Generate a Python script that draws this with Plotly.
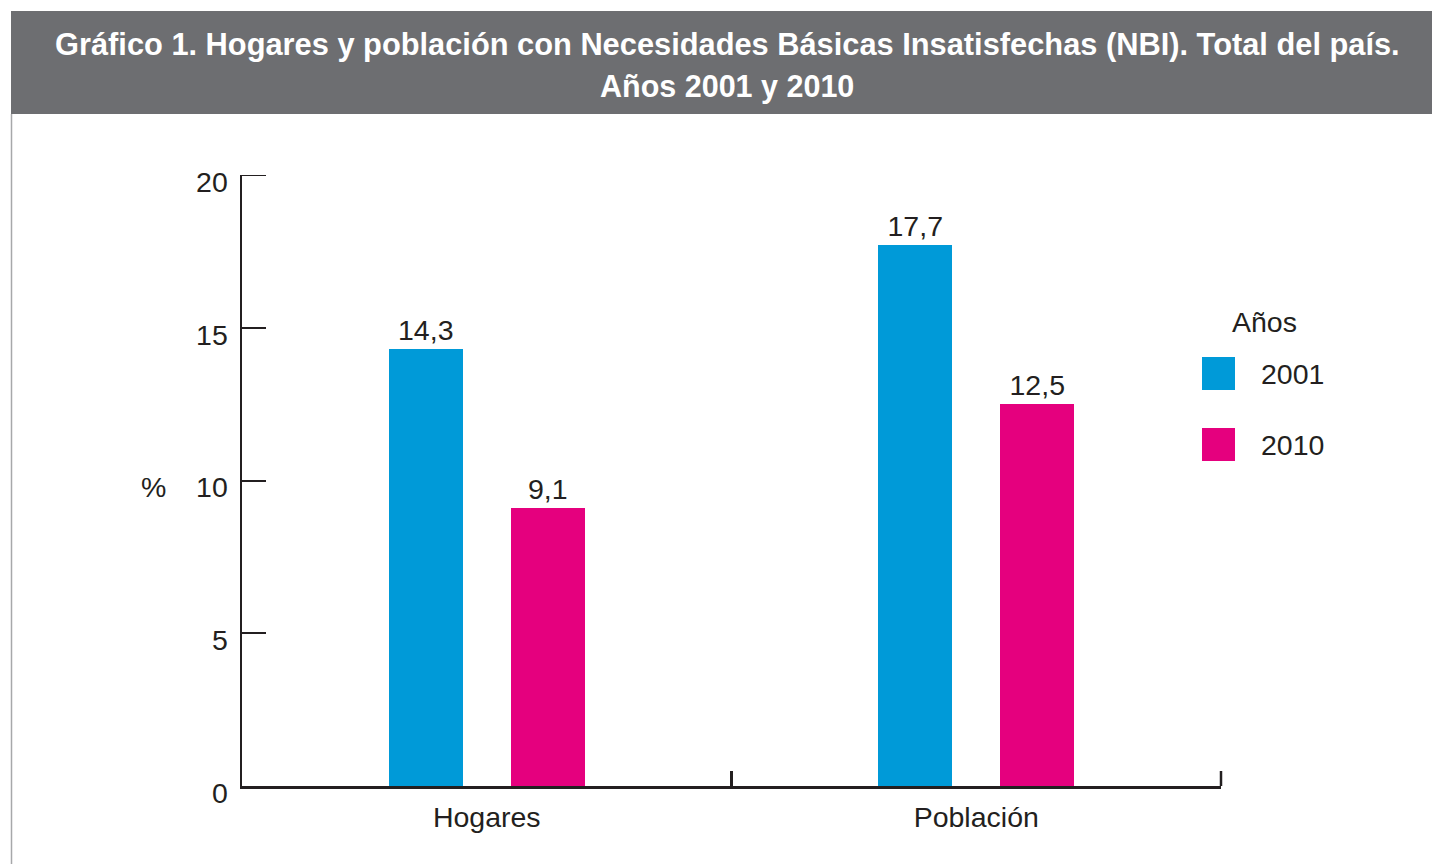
import plotly.graph_objects as go

categories = ["Hogares", "Población"]
series_names = ["2001", "2010"]
values_2001 = [14.3, 17.7]
values_2010 = [9.1, 12.5]
colors = ["#009ad8", "#e5007e"]
y_ticks = [0, 5, 10, 15, 20]

title_line1 = "Gráfico 1. Hogares y población con Necesidades Básicas Insatisfechas (NBI). Total del país."
title_line2 = "Años 2001 y 2010"
legend_title = "Años"
y_title = "%"

OFF = 0  # body margin removed via post_script
W, H = 1432 - OFF, 864 - OFF
L, R, T, B = 242, 1221, 175, 786  # plot area in page pixels
pw, ph = R - L, B - T


def px(x):
    return (x - L) / pw


def py(y):
    return (B - y) / ph


FONT = "Liberation Sans, Arial, Helvetica, sans-serif"
TXT = "#231f20"

fig = go.Figure()
series_values = [values_2001, values_2010]
offsets = [-0.2002, 0.049]
for name, vals, col, off in zip(series_names, series_values, colors, offsets):
    fig.add_trace(go.Bar(
        x=categories, y=vals, name=name,
        marker=dict(color=col, line=dict(width=0)),
        width=0.1512, offset=off,
        texttemplate="%{y:.1f}", textposition="outside",
        textfont=dict(size=28.5, color=TXT, family=FONT),
        cliponaxis=False, showlegend=False,
    ))

shapes = [
    # title banner
    dict(type="rect", xref="paper", yref="paper", x0=px(11), x1=px(1440), y0=py(114), y1=py(11),
         fillcolor="#6d6e71", line=dict(width=0), layer="below"),
    # left border of panel
    dict(type="line", xref="paper", yref="paper", x0=px(11.5), x1=px(11.5), y0=py(114), y1=py(870),
         line=dict(color="#a7a8aa", width=1.5)),
    # end ticks that plotly hides at the plot edges
    dict(type="line", xref="paper", yref="y", x0=0, x1=24 / pw, y0=y_ticks[-1], y1=y_ticks[-1],
         line=dict(color=TXT, width=2)),
    dict(type="line", xref="paper", yref="paper", x0=1, x1=1, y0=0, y1=15 / ph,
         line=dict(color=TXT, width=2.5)),
]
annotations = [
    dict(text="<b>" + title_line1 + "</b>", xref="paper", yref="paper", x=px(727), y=py(44),
         xanchor="center", yanchor="middle", showarrow=False,
         font=dict(size=30.8, color="white", family=FONT)),
    dict(text="<b>" + title_line2 + "</b>", xref="paper", yref="paper", x=px(727), y=py(86),
         xanchor="center", yanchor="middle", showarrow=False,
         font=dict(size=30.5, color="white", family=FONT)),
    dict(text=y_title, xref="paper", yref="paper", x=px(153), y=py(487),
         xanchor="center", yanchor="middle", showarrow=False,
         font=dict(size=28.5, color=TXT, family=FONT)),
    dict(text=legend_title, xref="paper", yref="paper", x=px(1230), y=py(322),
         xanchor="left", yanchor="middle", showarrow=False,
         font=dict(size=28.5, color=TXT, family=FONT)),
]
legend_tops = [357, 428]
for name, col, top in zip(series_names, colors, legend_tops):
    shapes.append(dict(type="rect", xref="paper", yref="paper", x0=px(1202), x1=px(1235),
                       y0=py(top + 33), y1=py(top), fillcolor=col, line=dict(width=0)))
    annotations.append(dict(text=name, xref="paper", yref="paper", x=px(1259), y=py(top + 16.5),
                            xanchor="left", yanchor="middle", showarrow=False,
                            font=dict(size=28.5, color=TXT, family=FONT)))

fig.update_layout(
    width=W, height=H,
    margin=dict(l=L - OFF, r=W - (R - OFF), t=T - OFF, b=H - (B - OFF), autoexpand=False),
    paper_bgcolor="white", plot_bgcolor="white",
    separators=",.",
    font=dict(family=FONT, size=28, color=TXT),
    bargap=0, barmode="overlay",
    shapes=shapes, annotations=annotations,
    xaxis=dict(
        range=[-0.5, 1.5], showgrid=False, zeroline=False,
        showline=True, linecolor=TXT, linewidth=2.5,
        ticks="inside", tickson="boundaries", ticklen=15, tickwidth=2.5, tickcolor=TXT,
        tickfont=dict(size=28.5, color=TXT, family=FONT), ticklabelstandoff=4,
    ),
    yaxis=dict(
        range=[0, 20], tickvals=y_ticks, showgrid=False, zeroline=False,
        showline=True, linecolor=TXT, linewidth=2.5,
        ticks="inside", ticklen=24, tickwidth=2, tickcolor=TXT,
        tickfont=dict(size=28.5, color=TXT, family=FONT), ticklabelstandoff=6,
        ticklabelshift=7,
    ),
)

fig.write_html(
    "out.html",
    config={"displayModeBar": False, "staticPlot": True},
    post_script="document.body.style.margin='0';document.documentElement.style.overflow='hidden';",
)
